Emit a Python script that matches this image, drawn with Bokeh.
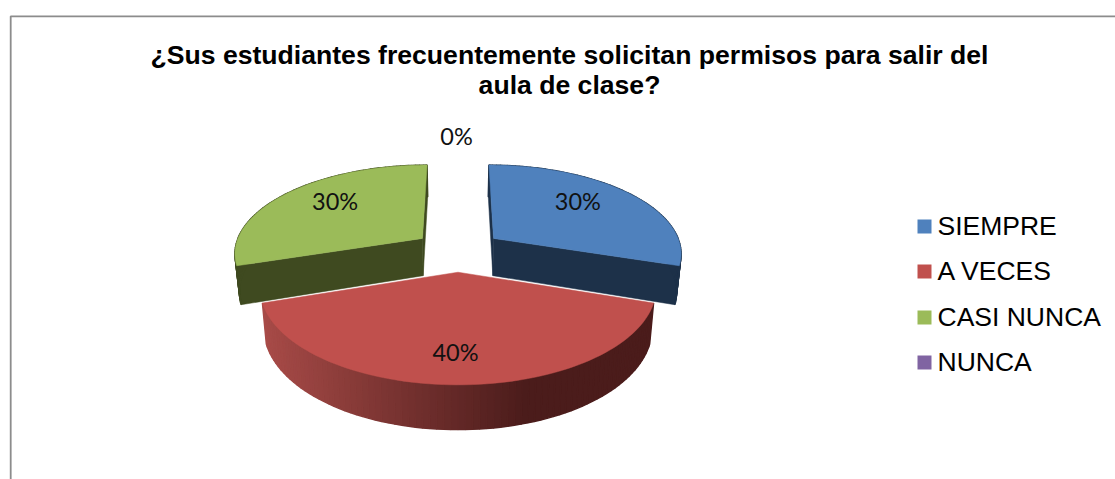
import numpy as np
from bokeh.plotting import figure
from bokeh.embed import file_html
from bokeh.resources import INLINE
from bokeh.core.properties import value
from bokeh.models import Range1d

# ---- data ----
categories = ["SIEMPRE", "A VECES", "CASI NUNCA", "NUNCA"]
percent = [30, 40, 30, 0]
top_colors = ["#4f81bd", "#c0504d", "#9bbb59", "#8064a2"]
wall_colors = ["#1d3149", "#4b1c1b", "#3f4a20", "#33284a"]
title_lines = ["¿Sus estudiantes frecuentemente solicitan permisos para salir del",
               "aula de clase?"]

# ---- projection of the exploded, tilted pie ----
CX, CY, RX, RY, P, EXPLODE = 457.5, 250.0, 188.5, 88.0, 0.1527, 0.238
SHRINK = 0.98


def project(u, v):
    w = 1 - P * v
    return CX + RX * u / w, CY + RY * v / w


def drop(x, y, v):
    return CX + (x - CX) * SHRINK, y + 38 + 5.5 * v


def slice_geometry(start, end):
    mid = (start + end) / 2
    ou, ov = EXPLODE * np.sin(mid), -EXPLODE * np.cos(mid)
    th = np.linspace(start, end, 81)
    us, vs = ou + np.sin(th), ov - np.cos(th)
    return mid, ou, ov, us, vs


def hex2rgb(c):
    return np.array([int(c[i:i + 2], 16) for i in (1, 3, 5)], dtype=float)


def rgb2hex(c):
    return "#%02x%02x%02x" % tuple(int(round(a)) for a in c)


p = figure(width=1115, height=479, output_backend="svg", toolbar_location=None,
           x_range=Range1d(0, 1115), y_range=Range1d(479, 0), min_border=0,
           outline_line_color=None)
p.axis.visible = False
p.grid.visible = False
p.background_fill_color = "white"
p.border_fill_color = "white"

# chart frame
p.line([10.2, 10.2, 1115], [479, 15.8, 15.8], line_color="#8c8c8c", line_width=1.8)

edges = np.cumsum([0] + percent) / sum(percent) * 2 * np.pi
draw_order = [0, 2, 1]
for i in draw_order:
    start, end = edges[i], edges[i + 1]
    mid, ou, ov, us, vs = slice_geometry(start, end)
    ax, ay = project(ou, ov)
    xs, ys = project(us, vs)
    bx, by = drop(ax, ay, ov)
    xb, yb = drop(xs, ys, vs)

    # flat cut faces (back one first)
    if i != 1:
        order = (0, -1) if i == 0 else (-1, 0)
        for k in order:
            p.patch([ax, xs[k], xb[k], bx], [ay, ys[k], yb[k], by],
                    fill_color=wall_colors[i], line_color=wall_colors[i], line_width=0.5)

    # outer wall, shaded strip by strip
    t_all = (xs - xs.min()) / (xs.max() - xs.min())
    c0 = hex2rgb("#a84b48") if i == 1 else hex2rgb(wall_colors[i])
    c1 = hex2rgb(wall_colors[i])
    qx, qy, qc = [], [], []
    for k in range(len(us) - 1):
        tt = min(1.0, t_all[k] / 0.68)
        qx.append([xs[k], xs[k + 1], xb[k + 1], xb[k]])
        qy.append([ys[k], ys[k + 1], yb[k + 1], yb[k]])
        qc.append(rgb2hex(c0 + (c1 - c0) * tt))
    p.patches(qx, qy, fill_color=qc, line_color=qc, line_width=1.4)

    # top face
    p.patch([ax] + list(xs), [ay] + list(ys), fill_color=top_colors[i],
            line_color=top_colors[i], line_width=0.5)

# data labels
label_reach = [0.60, 0.75, 0.60, 1.36]
label_lift = [-9, -1, -9, -1]
label_side = [1, -2.5, -4, -1.5]
lx, ly, lt = [], [], []
for i, pct in enumerate(percent):
    mid = (edges[i] + edges[i + 1]) / 2 if pct else 0.0
    e = EXPLODE
    u = (e + label_reach[i]) * np.sin(mid)
    v = -(e + label_reach[i]) * np.cos(mid)
    x, y = project(u, v)
    lx.append(x + label_side[i])
    ly.append(y + label_lift[i])
    lt.append(f"{pct}%")
p.text(lx, ly, text=lt, text_font=value("Lato"), text_font_size="23.5px",
       text_align="center", text_baseline="middle", text_color="#111111")

# title
p.text([569, 569], [54.5, 84], text=title_lines, text_font=value("Liberation Sans"),
       text_font_style="bold", text_font_size="26.6px", text_align="center",
       text_baseline="middle", text_color="#000000")

# legend
leg_y = [226, 271, 317, 362]
p.rect([924] * 4, leg_y, width=14, height=14, fill_color=top_colors, line_color=None)
p.text([937] * 4, [y - 1 for y in leg_y], text=categories, text_font=value("Liberation Sans"),
       text_font_size="26.5px", text_align="left", text_baseline="middle", text_color="#000000")

open("out.html", "w").write(file_html(p, INLINE))
